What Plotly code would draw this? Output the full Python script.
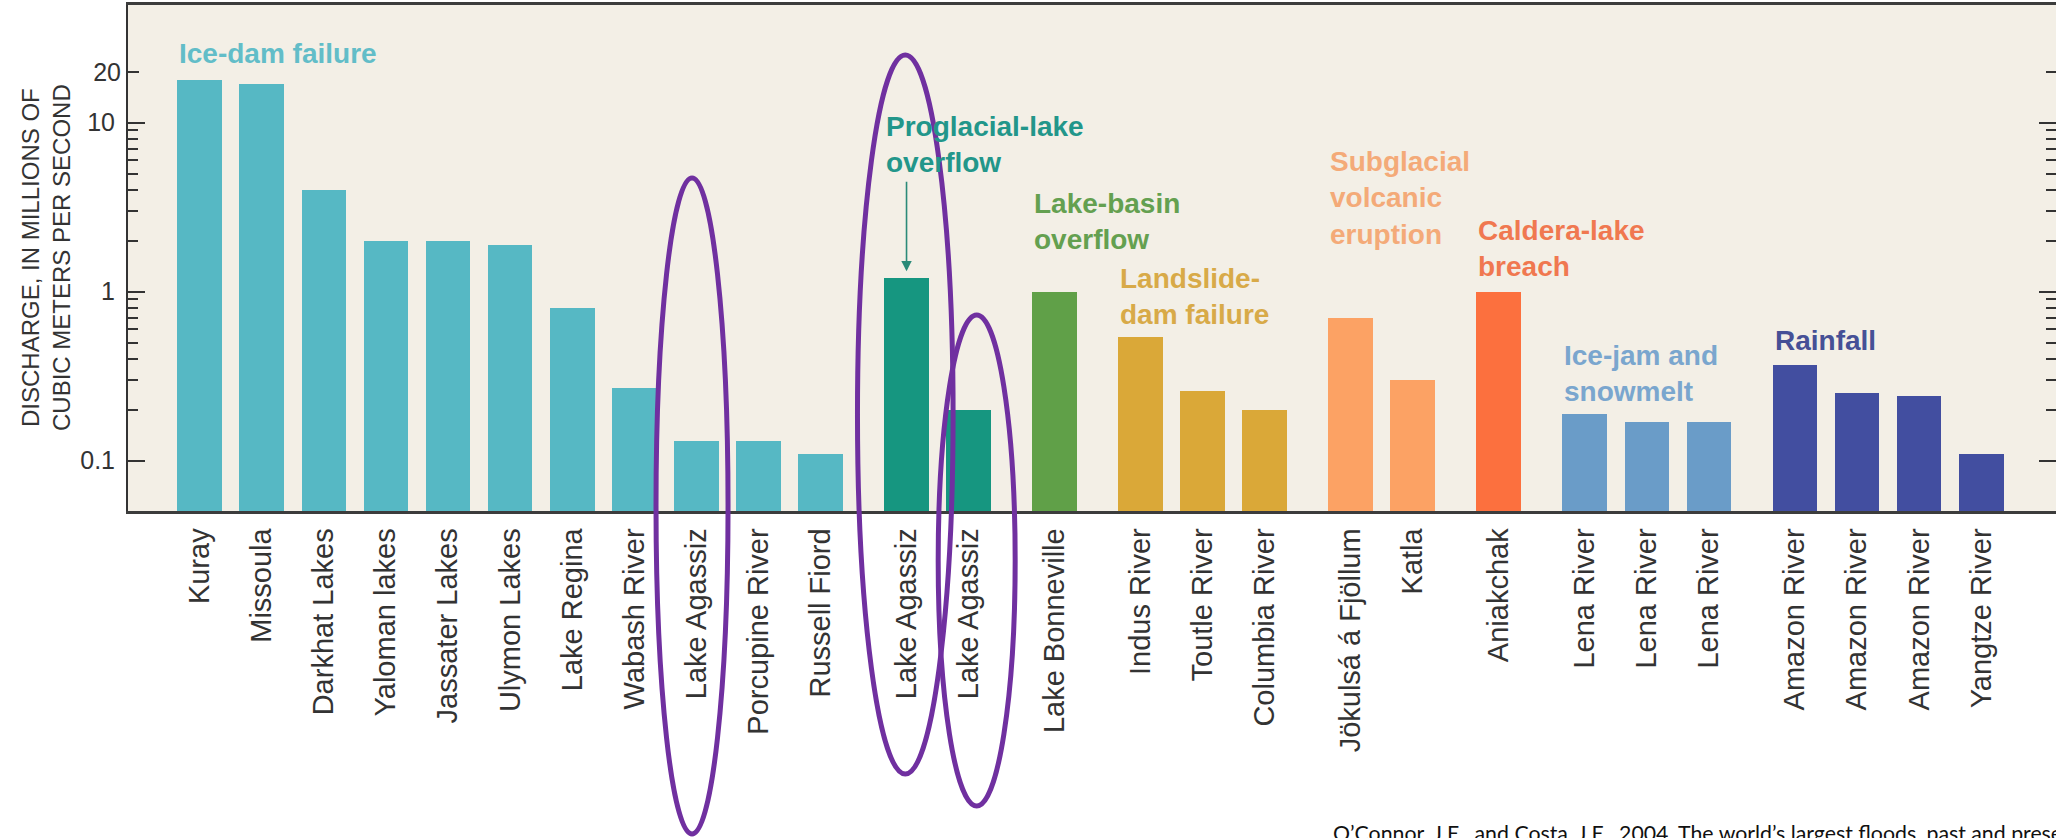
import math
import plotly.graph_objects as go

# ---------------- data ----------------
names = ["Kuray", "Missoula", "Darkhat Lakes", "Yaloman lakes", "Jassater Lakes",
         "Ulymon Lakes", "Lake Regina", "Wabash River", "Lake Agassiz",
         "Porcupine River", "Russell Fiord",
         "Lake Agassiz", "Lake Agassiz",
         "Lake Bonneville",
         "Indus River", "Toutle River", "Columbia River",
         "Jökulsá á Fjöllum", "Katla",
         "Aniakchak",
         "Lena River", "Lena River", "Lena River",
         "Amazon River", "Amazon River", "Amazon River", "Yangtze River"]
discharge = [18, 17, 4.0, 2.0, 2.0, 1.9, 0.8, 0.27, 0.13, 0.13, 0.11,
             1.2, 0.20,
             1.0,
             0.54, 0.26, 0.20,
             0.70, 0.30,
             1.0,
             0.19, 0.17, 0.17,
             0.37, 0.25, 0.24, 0.11]
group_of_bar = [0]*11 + [1]*2 + [2] + [3]*3 + [4]*2 + [5] + [6]*3 + [7]*4
group_labels = ["Ice-dam failure", "Proglacial-lake<br>overflow", "Lake-basin<br>overflow",
                "Landslide-<br>dam failure", "Subglacial<br>volcanic<br>eruption",
                "Caldera-lake<br>breach", "Ice-jam and<br>snowmelt", "Rainfall"]
major_ticks = [0.1, 1, 10]
major_text = ["0.1", "1", "10"]
extra_tick = [20]
extra_text = ["20"]
minor_ticks = [0.2, 0.3, 0.4, 0.5, 0.6, 0.7, 0.8, 0.9, 2, 3, 4, 5, 6, 7, 8, 9]
y_title = "DISCHARGE, IN MILLIONS OF<br>CUBIC METERS PER SECOND"
citation = ("O\u2019Connor, J.E., and Costa, J.E., 2004, The world\u2019s largest floods, past and present: "
            "Their causes and magnitudes: U.S. Geological Survey Circular 1254, 13 p.")

# ---------------- styles ----------------
bar_colors = ["#56B8C4", "#169680", "#60A048", "#DAA838", "#FCA264", "#FC703E", "#6A9CC8", "#424EA0"]
text_colors = ["#62BDC8", "#22968A", "#64A050", "#D8AA48", "#F4AA78", "#F07850", "#7AA6CE", "#465096"]
label_center_px = [53, 145, 221, 296, 198, 248, 373, 341]   # vertical centres of group labels (px)

W, H = 2056, 838
PLOT_L, PLOT_R, PLOT_T, PLOT_B = 128, 2056, 5, 511
GAP = 0.385
BAR_W = 0.72
positions = [i + GAP * g for i, g in enumerate(group_of_bar)]
x_range = [positions[0] - 1.155, positions[-1] + 1.205]
y_range = [-1.2976, 1.6965]


def py2paper(py):
    return (PLOT_B - py) / (PLOT_B - PLOT_T)


def x2paper(x):
    return (x - x_range[0]) / (x_range[1] - x_range[0])


colors = [bar_colors[g] for g in group_of_bar]

fig = go.Figure()
fig.add_trace(go.Bar(x=positions, y=discharge, width=BAR_W, marker=dict(color=colors, line=dict(width=0)),
                     showlegend=False, hoverinfo="skip"))
# invisible helper traces so the overlay axes exist
fig.add_trace(go.Scatter(x=[positions[0]], y=[1], yaxis="y2", mode="markers",
                         marker=dict(opacity=0), showlegend=False, hoverinfo="skip"))
fig.add_trace(go.Scatter(x=[positions[0]], y=[1], yaxis="y3", mode="markers",
                         marker=dict(opacity=0), showlegend=False, hoverinfo="skip"))

FONT = "Liberation Sans, Arial, Helvetica, sans-serif"
AX = "#333333"

fig.update_layout(
    width=W, height=H,
    margin=dict(l=PLOT_L, r=W - PLOT_R, t=PLOT_T, b=H - PLOT_B),
    paper_bgcolor="white", plot_bgcolor="#F3EFE6",
    bargap=0,
    font=dict(family=FONT, color=AX),
    xaxis=dict(range=x_range, tickmode="array", tickvals=positions, ticktext=names,
               tickangle=-90, tickfont=dict(size=29, color="#333333", family=FONT),
               showline=True, linecolor="#3c3c3c", linewidth=2.5, mirror=True,
               showgrid=False, zeroline=False, ticks="", ticklabelstandoff=3),
    yaxis=dict(type="log", range=y_range, tickmode="array", tickvals=major_ticks, ticktext=major_text,
               ticks="inside", ticklen=17, tickwidth=2, tickcolor=AX,
               minor=dict(tickmode="array", tickvals=minor_ticks, ticks="inside", ticklen=10,
                          tickwidth=2, tickcolor=AX, showgrid=False),
               tickfont=dict(size=25, color=AX, family=FONT), ticklabelstandoff=6,
               showline=True, linecolor=AX, linewidth=2, showgrid=False, zeroline=False),
    yaxis2=dict(type="log", range=y_range, overlaying="y", anchor="x", side="left",
                tickmode="array", tickvals=extra_tick, ticktext=extra_text,
                ticks="inside", ticklen=11, tickwidth=2, tickcolor=AX,
                tickfont=dict(size=25, color=AX, family=FONT), ticklabelstandoff=6,
                showline=False, showgrid=False, zeroline=False),
    yaxis3=dict(type="log", range=y_range, overlaying="y", anchor="x", side="right",
                tickmode="array", tickvals=major_ticks, ticks="inside", ticklen=17, tickwidth=2,
                tickcolor=AX, showticklabels=False,
                minor=dict(tickmode="array", tickvals=minor_ticks + extra_tick, ticks="inside",
                           ticklen=10, tickwidth=2, tickcolor=AX, showgrid=False),
                showline=False, showgrid=False, zeroline=False),
)

annotations = []
# group labels
for g, lab in enumerate(group_labels):
    first = group_of_bar.index(g)
    annotations.append(dict(x=positions[first] - BAR_W / 2, xref="x", xanchor="left",
                            y=py2paper(label_center_px[g]), yref="paper", yanchor="middle",
                            text="<b>" + lab + "</b>", showarrow=False, align="left",
                            font=dict(size=28, color=text_colors[g], family=FONT)))
# arrow to the proglacial-lake bar
arrow_idx = group_of_bar.index(1)
annotations.append(dict(x=positions[arrow_idx], xref="x", y=math.log10(discharge[arrow_idx]), yref="y",
                        text="", showarrow=True, axref="pixel", ayref="pixel", ax=0, ay=-98,
                        arrowhead=2, arrowsize=1.3, arrowwidth=1.6, arrowcolor="#2A8A78", standoff=7))
# y axis title
annotations.append(dict(x=(46 - PLOT_L) / (PLOT_R - PLOT_L), xref="paper", y=py2paper(258), yref="paper",
                        xanchor="center", yanchor="middle", textangle=-90, text=y_title, showarrow=False,
                        font=dict(size=24, color=AX, family=FONT)))
# citation
annotations.append(dict(x=(1331 - PLOT_L) / (PLOT_R - PLOT_L), xref="paper", xanchor="left",
                        y=py2paper(833), yref="paper", yanchor="middle", text=citation, showarrow=False,
                        font=dict(size=21.3, color="#111111", family="Lato, Carlito, Calibri, sans-serif")))
fig.update_layout(annotations=annotations)

# purple highlight ellipses around the Lake Agassiz bars
ellipse_bars = [8, 11, 12]
ellipse_spec = [  # (centre offset, half-width in slots, top px, bottom px)
    (-0.07, 0.58, 178, 834),
    (-0.02, 0.77, 55, 774),
    (0.13, 0.62, 315, 806),
]
for b, (off, hw, top, bot) in zip(ellipse_bars, ellipse_spec):
    cx = positions[b] + off
    fig.add_shape(type="circle", xref="paper", yref="paper",
                  x0=x2paper(cx - hw), x1=x2paper(cx + hw), y0=py2paper(bot), y1=py2paper(top),
                  line=dict(color="#7030A0", width=5), layer="above")

fig.write_html("out.html")
